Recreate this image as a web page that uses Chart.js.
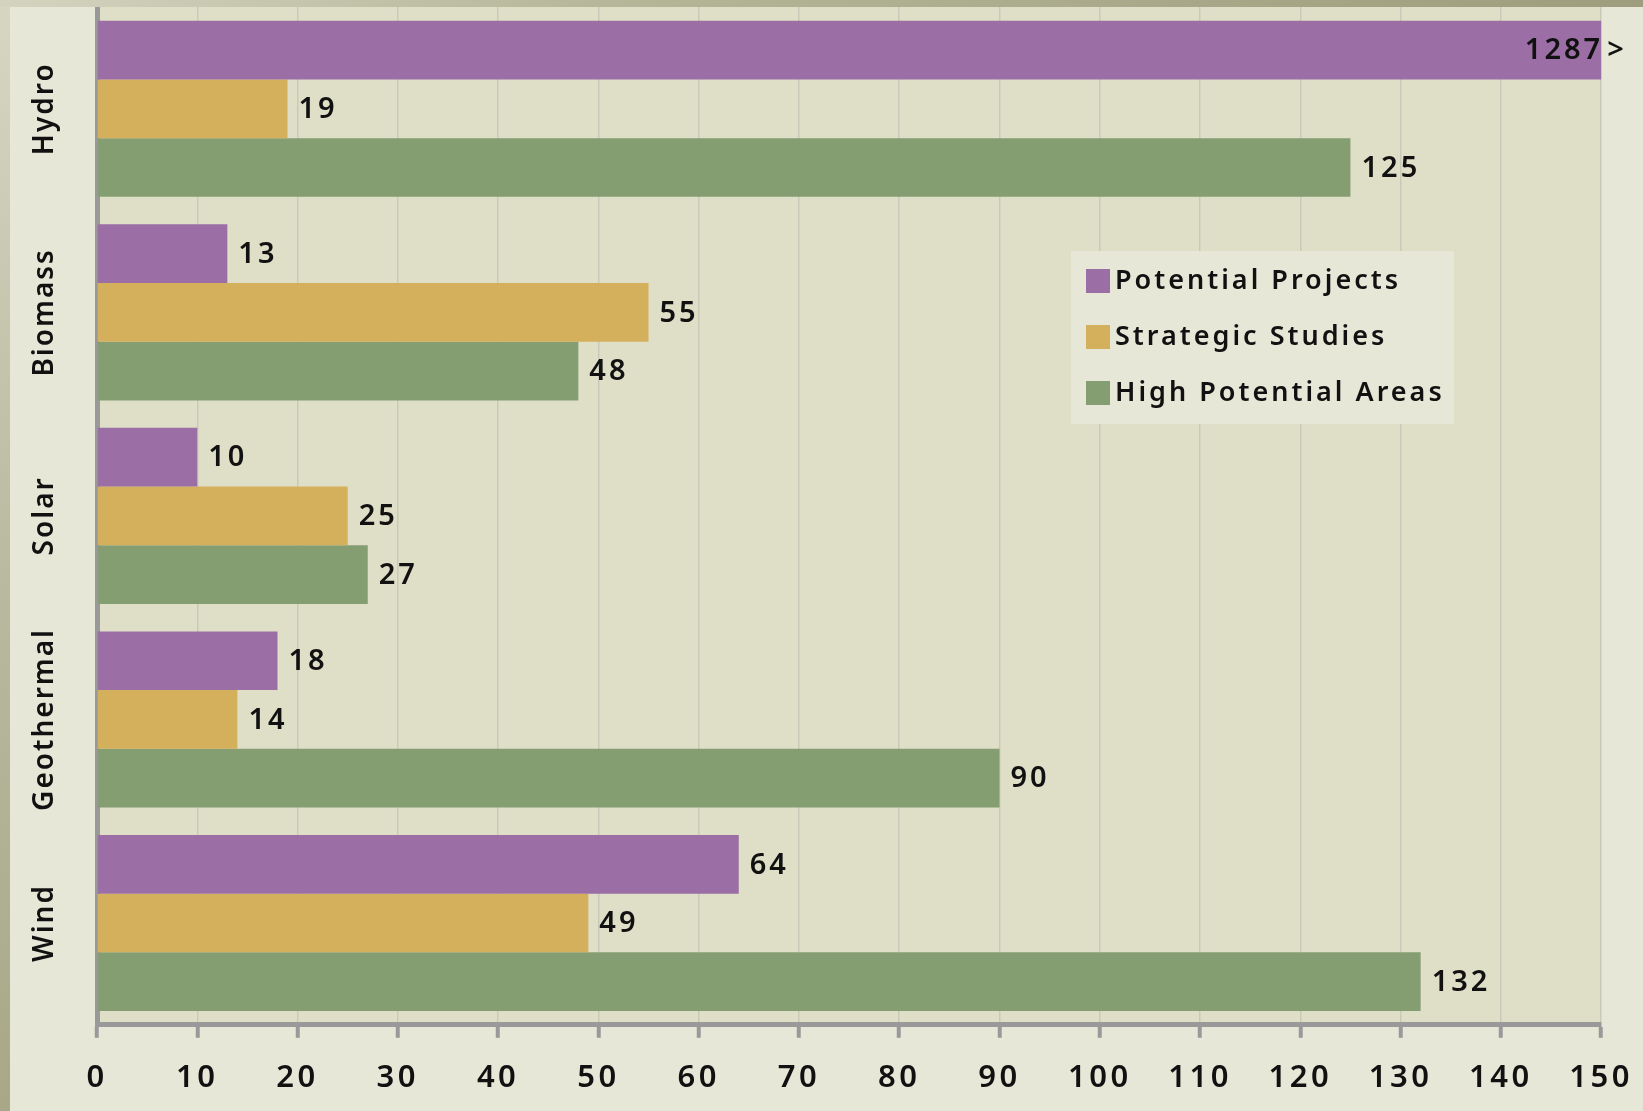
<!DOCTYPE html>
<html>
<head>
<meta charset="utf-8">
<script src="https://cdn.jsdelivr.net/npm/chart.js@4.4.1/dist/chart.umd.min.js"></script>
<style>
  html, body { margin: 0; padding: 0; }
  body {
    width: 1643px; height: 1111px; overflow: hidden; position: relative;
    background: linear-gradient(180deg, #d6d6c3 0%, #b8b89e 55%, #a8a888 100%);
  }
  #franja {
    position: absolute; left: 0; top: 0; width: 1643px; height: 7px;
    background: linear-gradient(90deg, #d3d3bf 0%, #b4b497 40%, #9e9e7e 100%);
  }
  #panel {
    position: absolute; left: 10px; top: 7px; width: 1633px; height: 1104px;
    background: #e7e7d7; overflow: hidden;
  }
</style>
</head>
<body>
<div id="franja"></div>
<div id="panel"><canvas id="grafica" width="1645" height="1126"></canvas></div>
<script>
// Datos
const categorias = ['Hydro', 'Biomass', 'Solar', 'Geothermal', 'Wind'];
const proyectosPotenciales = [1287, 13, 10, 18, 64];
const estudiosEstrategicos = [19, 55, 25, 14, 49];
const areasAltoPotencial = [125, 48, 27, 90, 132];
const nombresSeries = ['Potential Projects', 'Strategic Studies', 'High Potential Areas'];
const coloresSeries = ['#9b6ea5', '#d5b05c', '#849e72'];
const ejeMin = 0, ejeMax = 150, ejePaso = 10;

const FUENTE = '"Noto Sans", "DejaVu Sans", sans-serif';

// Plugin: fondo del área, etiquetas de valores, categorías y leyenda
const decoracion = {
  id: 'decoracion',
  beforeLayout(chart) { chart.ctx.letterSpacing = '3.5px'; },
  beforeDraw(chart) {
    const { ctx, chartArea: a } = chart;
    ctx.letterSpacing = '3.5px';
    ctx.save();
    ctx.fillStyle = '#dfdfc8';
    ctx.fillRect(a.left, a.top, a.right - a.left, a.bottom - a.top);
    ctx.restore();
  },
  afterDraw(chart) {
    const { ctx, chartArea: a } = chart;
    const escalaY = chart.scales.y;
    const escalaX = chart.scales.x;
    ctx.save();
    ctx.fillStyle = '#111';

    // valores al final de cada barra
    ctx.letterSpacing = '3px';
    ctx.font = '600 29px ' + FUENTE;
    ctx.textBaseline = 'middle';
    ctx.textAlign = 'left';
    chart.data.datasets.forEach((ds, i) => {
      const meta = chart.getDatasetMeta(i);
      meta.data.forEach((barra, j) => {
        const v = ds.data[j];
        if (v > escalaX.max) {
          const ancho = ctx.measureText(String(v)).width;
          ctx.fillText(String(v), a.right - ancho + 2, barra.y + 1);
          ctx.fillText('>', a.right + 6, barra.y + 1);
        } else {
          ctx.fillText(String(v), barra.x + 11, barra.y + 1);
        }
      });
    });

    // etiquetas de categoría giradas
    ctx.letterSpacing = '2px';
    ctx.font = '600 28px ' + FUENTE;
    ctx.textAlign = 'center';
    ctx.textBaseline = 'middle';
    categorias.forEach((c, j) => {
      const y = escalaY.getPixelForValue(j);
      ctx.save();
      ctx.translate(35, y);
      ctx.rotate(-Math.PI / 2);
      ctx.fillText(c, 0, 0);
      ctx.restore();
    });

    // leyenda
    const lx = 1061, ly = 244, lw = 383, lh = 173;
    ctx.fillStyle = '#e7e7d7';
    ctx.fillRect(lx, ly, lw, lh);
    ctx.letterSpacing = '3px';
    ctx.font = '600 27px ' + FUENTE;
    ctx.textAlign = 'left';
    ctx.textBaseline = 'middle';
    chart.data.datasets.forEach((ds, i) => {
      const cy = ly + 30 + i * 56;
      ctx.fillStyle = ds.backgroundColor;
      ctx.fillRect(lx + 15, cy - 12, 24, 24);
      ctx.fillStyle = '#111';
      ctx.fillText(ds.label, lx + 44, cy);
    });
    ctx.restore();
  }
};

const ctx = document.getElementById('grafica').getContext('2d');
new Chart(ctx, {
  type: 'bar',
  data: {
    labels: categorias,
    datasets: [
      { label: nombresSeries[0], data: proyectosPotenciales, backgroundColor: coloresSeries[0] },
      { label: nombresSeries[1], data: estudiosEstrategicos, backgroundColor: coloresSeries[1] },
      { label: nombresSeries[2], data: areasAltoPotencial, backgroundColor: coloresSeries[2] }
    ]
  },
  options: {
    indexAxis: 'y',
    responsive: false,
    animation: false,
    events: [],
    datasets: { bar: { categoryPercentage: 0.865, barPercentage: 1.0, borderWidth: 0 } },
    layout: { padding: { left: 79, top: 0, right: 36, bottom: 14 } },
    plugins: { legend: { display: false }, tooltip: { enabled: false } },
    scales: {
      x: {
        min: ejeMin, max: ejeMax,
        ticks: {
          stepSize: ejePaso, color: '#111', padding: 22,
          font: { family: FUENTE, size: 31, weight: '600' },
          maxRotation: 0, autoSkip: false
        },
        grid: { color: '#c9c9ba', lineWidth: 1.5, tickColor: '#999', tickWidth: 4, tickLength: 13 },
        border: { color: '#999', width: 5 }
      },
      y: {
        ticks: { display: false },
        grid: { display: false },
        border: { color: '#999', width: 5 }
      }
    }
  },
  plugins: [decoracion]
});
</script>
</body>
</html>
